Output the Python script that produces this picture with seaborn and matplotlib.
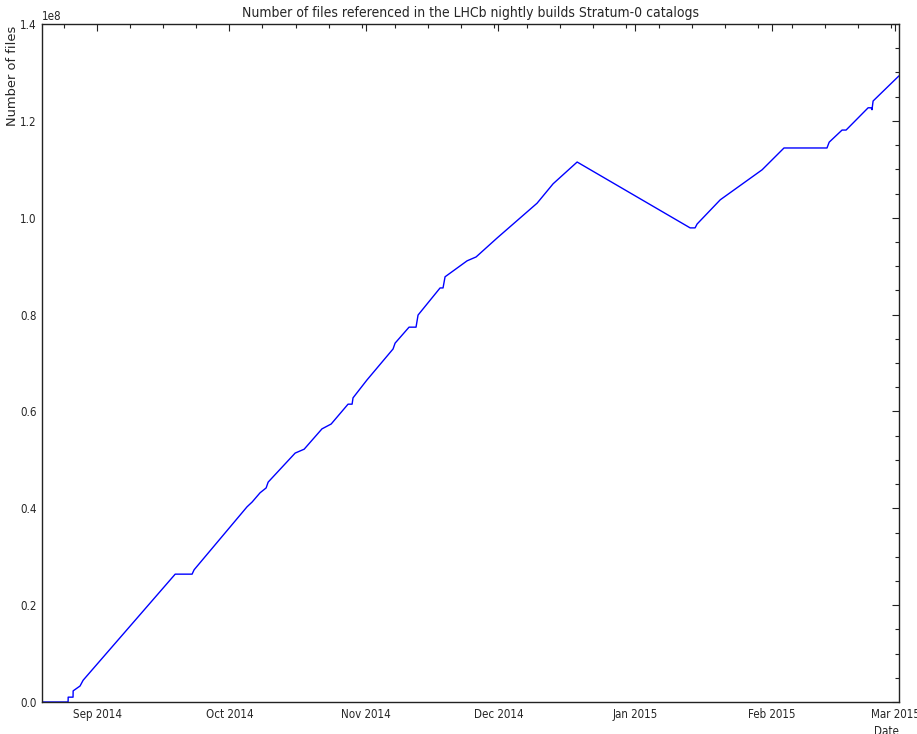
import pandas as pd
import matplotlib
matplotlib.use("Agg")
import matplotlib.pyplot as plt
import matplotlib.dates as mdates
from matplotlib.ticker import AutoMinorLocator
import seaborn as sns

# Fechas y numero de ficheros
fechas = [
    "2014-08-19 12:00", "2014-08-25 10:00", "2014-08-25 10:30", "2014-08-26 13:00",
    "2014-08-26 13:30", "2014-08-28 03:00", "2014-08-28 20:00", "2014-09-18 17:00",
    "2014-09-22 13:00", "2014-09-23 00:00", "2014-10-05 00:00", "2014-10-06 04:00",
    "2014-10-07 23:00", "2014-10-09 08:00", "2014-10-09 19:00", "2014-10-15 22:00",
    "2014-10-17 23:00", "2014-10-22 00:00", "2014-10-24 02:00", "2014-10-27 22:00",
    "2014-10-28 20:00", "2014-10-29 01:00", "2014-11-01 05:00", "2014-11-07 03:00",
    "2014-11-07 14:00", "2014-11-10 18:00", "2014-11-12 08:00", "2014-11-12 19:00",
    "2014-11-17 19:00", "2014-11-18 11:00", "2014-11-18 22:00", "2014-11-23 22:00",
    "2014-11-25 23:00", "2014-11-30 17:00", "2014-12-09 19:00", "2014-12-13 10:00",
    "2014-12-18 21:00", "2015-01-13 12:00", "2015-01-14 15:00", "2015-01-15 02:00",
    "2015-01-20 08:00", "2015-01-29 20:00", "2015-02-03 19:00", "2015-02-13 13:00",
    "2015-02-14 01:00", "2015-02-16 23:00", "2015-02-17 21:00", "2015-02-22 21:00",
    "2015-02-23 13:00", "2015-02-23 18:00", "2015-02-24 00:00", "2015-03-01 21:00",
]
ficheros = [
    0.0, 0.0, 1.0e6, 1.0e6,
    2.3e6, 3.3e6, 4.5e6, 26.4e6,
    26.4e6, 27.3e6, 40.3e6, 41.3e6,
    43.2e6, 44.2e6, 45.4e6, 51.4e6,
    52.2e6, 56.4e6, 57.4e6, 61.5e6,
    61.5e6, 62.8e6, 66.5e6, 72.9e6,
    74.1e6, 77.4e6, 77.4e6, 79.9e6,
    85.5e6, 85.5e6, 87.8e6, 91.1e6,
    91.9e6, 95.8e6, 103.0e6, 107.0e6,
    111.5e6, 97.9e6, 97.9e6, 98.7e6,
    103.7e6, 109.9e6, 114.4e6, 114.4e6,
    115.6e6, 118.1e6, 118.1e6, 122.7e6,
    122.7e6, 122.3e6, 124.1e6, 129.3e6,
]

df = pd.DataFrame({"Date": pd.to_datetime(fechas), "files": ficheros})

sns.set_style("white")
plt.rcParams['font.family'] = ['DejaVu Sans']
plt.rcParams['font.stretch'] = 'condensed'
plt.rcParams['xtick.direction'] = 'in'
plt.rcParams['ytick.direction'] = 'in'

fig = plt.figure(figsize=(9.17, 7.34), dpi=100)
ax = fig.add_axes([42/917, 1 - 702/734, 857/917, 678/734])

sns.lineplot(data=df, x="Date", y="files", ax=ax, color="#0000ff",
             linewidth=1.0, estimator=None, sort=False)

ax.set_xlim(df["Date"].min(), df["Date"].max())
ax.set_ylim(0, 1.4e8)
ax.set_yticks([i * 0.2e8 for i in range(8)])

ax.xaxis.set_major_locator(mdates.MonthLocator())
ax.xaxis.set_major_formatter(mdates.DateFormatter('%b %Y'))
ax.xaxis.set_minor_locator(AutoMinorLocator(4))
ax.yaxis.set_minor_locator(AutoMinorLocator(4))

ax.tick_params(which='both', top=True, right=True, direction='in',
               color='#222222', width=0.8, labelsize=8.3)
ax.tick_params(which='major', length=5, pad=4)
ax.tick_params(which='minor', length=3)
ax.yaxis.get_offset_text().set_fontsize(8.3)

for s in ax.spines.values():
    s.set_color('#222222')
    s.set_linewidth(1.0)

ax.set_title("Number of files referenced in the LHCb nightly builds Stratum-0 catalogs",
             fontsize=10, pad=5)
ax.set_xlabel("Date", fontsize=8.3, loc='right', labelpad=3)
ax.set_ylabel("Number of files", fontsize=9.4, family=['DejaVu Sans'], fontstretch='normal')
ax.yaxis.set_label_coords(-0.027, 0.923)

fig.savefig("out.png", dpi=100)
